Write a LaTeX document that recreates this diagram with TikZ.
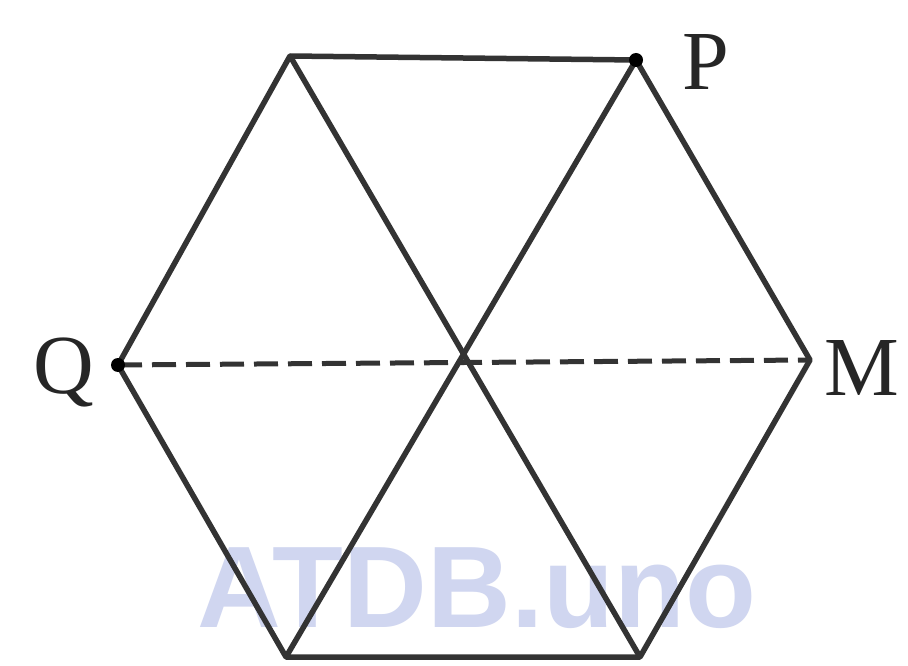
\documentclass[tikz,border=0pt]{standalone}
\usepackage{fontspec}
\newfontfamily\wmfont{Liberation Sans}
\newfontfamily\lblfont{Liberation Serif}
\begin{document}
\begin{tikzpicture}[x=1pt,y=-1pt,
  edge/.style={line width=5.5pt, draw=black!80, line join=round},
  dashedge/.style={line width=5pt, draw=black!80, dash pattern=on 24pt off 10pt},
  lbl/.style={font=\lblfont\fontsize{84}{84}\selectfont, inner sep=0pt, text=black!85},
  dotv/.style={circle, fill=black, inner sep=0pt, minimum size=14pt}]
\useasboundingbox (0,0) rectangle (908,666);
\fill[white] (0,0) rectangle (908,666);
\node[font=\wmfont\bfseries\fontsize{116}{116}\selectfont, text={rgb,255:red,208;green,214;blue,240}, anchor=base] (wm) at (477,627) {ATDB.uno};
\coordinate (A) at (290,56);
\coordinate (P) at (636,60);
\coordinate (M) at (810,360);
\coordinate (D) at (640,657);
\coordinate (E) at (286,657);
\coordinate (Q) at (118,365);
\draw[edge] (A) -- (P) -- (M) -- (D) -- (E) -- (Q) -- cycle;
\draw[edge] (A) -- (D);
\draw[edge] (P) -- (E);
\draw[dashedge] (Q) -- (M);
\node[dotv] (pd) at (P) {};
\node[dotv] (qd) at (Q) {};
\node[lbl] (lP) at (706,62) {P};
\node[lbl] (lQ) at (64,372) {Q};
\node[lbl] (lM) at (862,368) {M};
\end{tikzpicture}
\end{document}
